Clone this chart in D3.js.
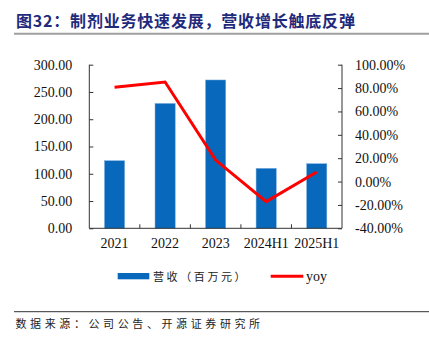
<!DOCTYPE html>
<html><head><meta charset="utf-8">
<script src="https://cdn.jsdelivr.net/npm/d3@7"></script>
<style>body{margin:0;background:#fff}svg{display:block}</style>
</head><body>
<svg id="c" width="429" height="348"></svg>
<script>
const categories = ["2021","2022","2023","2024H1","2025H1"];
const revenue = [124, 229, 272, 110, 118.5];
const yoy = [80.7, 85.2, 18.4, -17.2, 8.2];
const leftTicks = [0,50,100,150,200,250,300];
const rightTicks = [-40,-20,0,20,40,60,80,100];
const titleText = "图32：制剂业务快速发展，营收增长触底反弹";
const sourceText = "数据来源：公司公告、开源证券研究所";
const legendLabels = ["营收（百万元）","yoy"];

const svg = d3.select("#c");
const serif = "'Liberation Serif','Times New Roman',serif";
const cjk = "'Noto Sans CJK SC',sans-serif";

const L = 89.3, R = 342, T = 64.7, B = 228.3;
const x = d3.scaleBand().domain(categories).range([L, R]).paddingInner(0.6).paddingOuter(0.3);
const yL = d3.scaleLinear().domain([0,300]).range([B, T]);
const yR = d3.scaleLinear().domain([-40,100]).range([B, T]);

// title
svg.append("text").attr("x",16).attr("y",27).attr("font-family",cjk).attr("font-weight","bold")
  .attr("font-size",16).attr("fill","#1F2A7C").attr("letter-spacing",0.8).text(titleText);
svg.append("line").attr("x1",14).attr("x2",429).attr("y1",33.7).attr("y2",33.7)
  .attr("stroke","#a0a0a0").attr("stroke-width",2);

// bars
svg.append("g").selectAll("rect").data(revenue).join("rect")
  .attr("x",(d,i)=>x(categories[i])).attr("width",x.bandwidth())
  .attr("y",d=>yL(d)).attr("height",d=>B-yL(d))
  .attr("fill","#0868BC").attr("stroke","#7fb0dd").attr("stroke-width",0.5);

// axes
const axL = d3.axisLeft(yL).tickValues(leftTicks).tickSize(-4).tickPadding(17).tickFormat(d3.format(".2f"));
const gL = svg.append("g").attr("transform",`translate(${L},0)`).call(axL);
const axR = d3.axisRight(yR).tickValues(rightTicks).tickSize(-4).tickPadding(13).tickFormat(d=>d.toFixed(2)+"%");
const gR = svg.append("g").attr("transform",`translate(${R},0)`).call(axR);
const axB = d3.axisBottom(x).tickSize(0).tickPadding(10);
const gB = svg.append("g").attr("transform",`translate(0,${B})`).call(axB);
// category boundary ticks
const step = x.step();
const bounds = categories.slice(1).map(c => x(c) - (step - x.bandwidth())/2);
gB.selectAll("line.bt").data(bounds).join("line").attr("class","bt")
  .attr("x1",d=>d).attr("x2",d=>d).attr("y1",0).attr("y2",-4).attr("stroke","#333");
[gL,gR,gB].forEach(g=>{
  g.selectAll(".domain").attr("stroke","#333").attr("stroke-width",1);
  g.selectAll(".tick line").attr("stroke","#333");
  g.selectAll("text").attr("font-family",serif).attr("font-size",14).attr("fill","#111");
});
gL.select(".domain").attr("d",`M-0,${T}V${B}`);
gR.select(".domain").attr("d",`M0,${T}V${B}`);
gB.select(".domain").attr("d",`M${L},0H${R}`);
gB.selectAll(".tick text").attr("dy","0.71em");

// line
const line = d3.line().x((d,i)=>x(categories[i])+x.bandwidth()/2).y(d=>yR(d));
svg.append("path").datum(yoy).attr("d",line).attr("fill","none")
  .attr("stroke","#FF0000").attr("stroke-width",3);

// legend
svg.append("rect").attr("x",117.7).attr("y",273).attr("width",31.6).attr("height",6.3).attr("fill","#0868BC");
svg.append("text").attr("x",153).attr("y",280.5).attr("font-family",cjk).attr("font-size",11)
  .attr("letter-spacing",2.6).attr("fill","#222").text(legendLabels[0]);
svg.append("line").attr("x1",270.7).attr("x2",303.3).attr("y1",276.3).attr("y2",276.3)
  .attr("stroke","#FF0000").attr("stroke-width",3);
svg.append("text").attr("x",306).attr("y",281).attr("font-family",serif).attr("font-size",14)
  .attr("fill","#111").text(legendLabels[1]);

// source
svg.append("line").attr("x1",14).attr("x2",429).attr("y1",311.7).attr("y2",311.7)
  .attr("stroke","#333").attr("stroke-width",1);
svg.append("text").attr("x",15.5).attr("y",328).attr("font-family",cjk).attr("font-size",11)
  .attr("letter-spacing",3.6).attr("fill","#222").text(sourceText);
</script>
</body></html>
